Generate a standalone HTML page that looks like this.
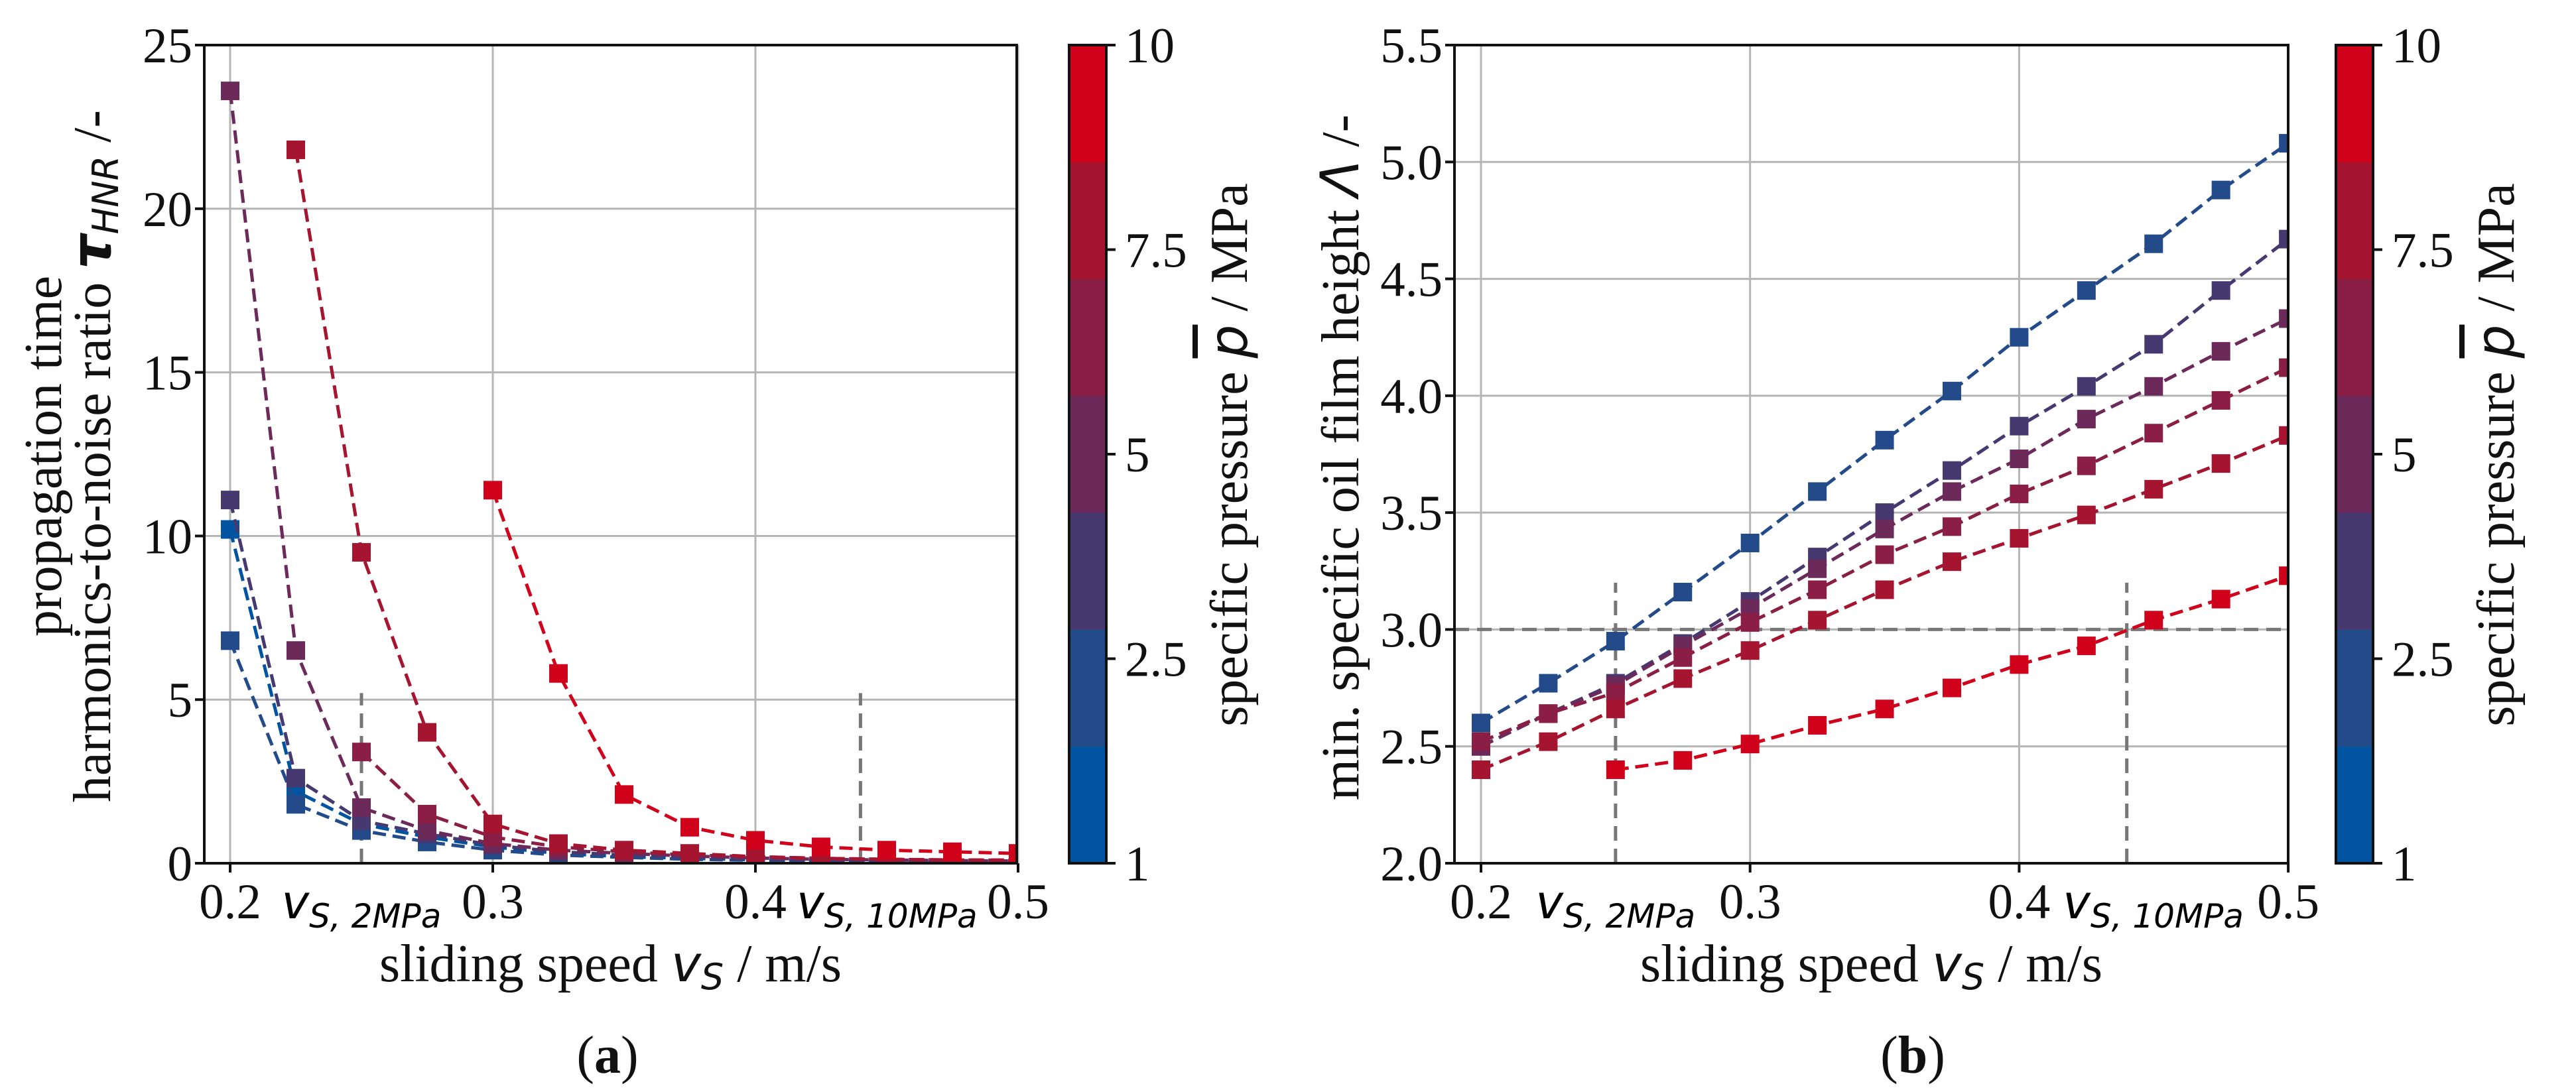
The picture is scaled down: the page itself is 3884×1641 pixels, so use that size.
<!DOCTYPE html>
<html><head><meta charset="utf-8"><style>
html,body{margin:0;padding:0;background:#fff;}
svg{display:block;}
.tk{font-family:"Liberation Serif",serif;font-size:75px;fill:#111;}
.ti{font-family:"Liberation Serif",serif;font-size:80px;fill:#111;}
.it{font-family:"DejaVu Sans",sans-serif;font-style:italic;}
</style></head><body>
<svg id="fig" width="3884" height="1641" viewBox="0 0 3884 1641" xmlns="http://www.w3.org/2000/svg">
<g id="gA"></g>
<g id="gB"></g>
<text class="ti" x="916" y="1618" text-anchor="middle">(<tspan font-weight="bold">a</tspan>)</text>
<text class="ti" x="2884" y="1618" text-anchor="middle">(<tspan font-weight="bold">b</tspan>)</text>
</svg>
<script>
const speeds=[0.2,0.225,0.25,0.275,0.3,0.325,0.35,0.375,0.4,0.425,0.45,0.475,0.5];
const colors=["#0054a0","#234b8a","#453970","#6b2a5a","#8b1e45","#a51530","#d0021b"];
const cbTicks=["10","7.5","5","2.5","1"];
const xTicks=[0.2,0.3,0.4,0.5];
// chart a: tau_HNR per pressure series (null = not measured)
const tauP1=[10.2,2.2,1.2,0.8,0.5,0.3,0.2,0.15,0.1,0.08,0.06,0.05,0.05];
const tauP2=[6.8,1.8,1.0,0.65,0.4,0.25,0.18,0.12,0.09,0.07,0.05,0.04,0.04];
const tauP3=[11.1,2.6,1.3,0.9,0.55,0.35,0.25,0.18,0.12,0.1,0.08,0.06,0.05];
const tauP4=[23.6,6.5,1.7,1.0,0.6,0.4,0.3,0.22,0.16,0.12,0.1,0.08,0.07];
const tauP5=[null,null,3.4,1.5,0.8,0.5,0.35,0.25,0.2,0.15,0.12,0.1,0.09];
const tauP6=[null,21.8,9.5,4.0,1.2,0.6,0.4,0.3,0.2,0.15,0.12,0.1,0.1];
const tauP7=[null,null,null,null,11.4,5.8,2.1,1.1,0.7,0.5,0.4,0.35,0.3];
const tauYTicks=[0,5,10,15,20,25];
// chart b: lambda per pressure series
const lamP2=[2.6,2.77,2.95,3.16,3.37,3.59,3.81,4.02,4.25,4.45,4.65,4.88,5.08];
const lamP3=[2.5,2.64,2.77,2.94,3.12,3.31,3.50,3.68,3.87,4.04,4.22,4.45,4.67];
const lamP4=[2.5,2.64,2.76,2.93,3.09,3.26,3.43,3.59,3.73,3.90,4.04,4.19,4.33];
const lamP5=[2.52,2.64,2.73,2.88,3.03,3.17,3.32,3.44,3.58,3.70,3.84,3.98,4.12];
const lamP6=[2.4,2.52,2.66,2.79,2.91,3.04,3.17,3.29,3.39,3.49,3.60,3.71,3.83];
const lamP7=[null,null,2.40,2.44,2.51,2.59,2.66,2.75,2.85,2.93,3.04,3.13,3.23];
const lamYTicks=[2.0,2.5,3.0,3.5,4.0,4.5,5.0,5.5];
const vMarks=[0.25,0.44];

const NS="http://www.w3.org/2000/svg";
function mk(parent,tag,attrs){const e=document.createElementNS(NS,tag);for(const k in attrs)e.setAttribute(k,attrs[k]);parent.appendChild(e);return e;}

function chart(g,cfg){
  const L=cfg.L,R=cfg.R,T=68,B=1302;
  const xs=v=>cfg.x02+(v-0.2)*cfg.px;
  const ys=v=>B-(v-cfg.ymin)/(cfg.ymax-cfg.ymin)*(B-T);
  const cid="clip"+cfg.id;
  const cp=mk(mk(g,"defs",{}),"clipPath",{id:cid});mk(cp,"rect",{x:L,y:T,width:R-L,height:B-T});
  xTicks.forEach(t=>{const l=mk(g,"line",{x1:xs(t),x2:xs(t),y1:T,y2:B,stroke:"#b5b5b5","stroke-width":3});
    
    });
  cfg.yt.forEach(t=>{const l=mk(g,"line",{x1:L,x2:R,y1:ys(t),y2:ys(t),stroke:"#b5b5b5","stroke-width":3});
    
    });
  vMarks.forEach(v=>{const l=mk(g,"line",{x1:xs(v),x2:xs(v),y1:B,y2:ys(cfg.vTop),stroke:"#777","stroke-width":5,"stroke-dasharray":"22 12"});
    
    });
  if(cfg.hLine!=null){const l=mk(g,"line",{x1:L,x2:R,y1:ys(cfg.hLine),y2:ys(cfg.hLine),stroke:"#777","stroke-width":5,"stroke-dasharray":"22 12"});
    
    }
  const sg=mk(g,"g",{"clip-path":"url(#"+cid+")"});
  cfg.series.forEach((s,i)=>{
    const col=cfg.cols[i];
    const pts=[];s.forEach((v,j)=>{if(v!=null)pts.push([xs(speeds[j]),ys(v)]);});
    const pl=mk(sg,"polyline",{points:pts.map(p=>p.join(",")).join(" "),fill:"none",stroke:col,"stroke-width":5,"stroke-dasharray":"20 10"});
    
    
    pts.forEach(p=>{const r=mk(sg,"rect",{x:p[0]-14,y:p[1]-14,width:28,height:28,fill:col});
      
      });
  });
  const fr=mk(g,"rect",{x:L,y:T,width:R-L,height:B-T,fill:"none",stroke:"#111","stroke-width":4});
  
  
  xTicks.forEach(t=>{mk(g,"line",{x1:xs(t),x2:xs(t),y1:B,y2:B+14,stroke:"#111","stroke-width":4});
    const tx=mk(g,"text",{x:xs(t),y:1385,"text-anchor":"middle",class:"tk"});tx.textContent=t.toFixed(1);
    
    });
  cfg.yt.forEach(t=>{mk(g,"line",{x1:L-14,x2:L,y1:ys(t),y2:ys(t),stroke:"#111","stroke-width":4});
    const tx=mk(g,"text",{x:L-18,y:ys(t)+26,"text-anchor":"end",class:"tk"});tx.textContent=cfg.fmt(t);
    
    });
  [["S, 2MPa",vMarks[0],0],["S, 10MPa",vMarks[1],40]].forEach(([sub,v,off])=>{
    const tx=mk(g,"text",{x:xs(v)+off,y:1385,"text-anchor":"middle",class:"it","font-size":"70"});
    
    
    const a=mk(tx,"tspan",{});a.textContent="v";
    const b=mk(tx,"tspan",{dy:"14","font-size":"50"});b.textContent=sub;});
  const xt=mk(g,"text",{x:(L+R)/2,y:1480,"text-anchor":"middle",class:"ti"});
  
  
  mk(xt,"tspan",{}).textContent="sliding speed ";
  mk(xt,"tspan",{class:"it","font-size":"76"}).textContent="v";
  mk(xt,"tspan",{class:"it","font-size":"54",dy:"12"}).textContent="S";
  mk(xt,"tspan",{dy:"-12"}).textContent=" / m/s";
  const cx=cfg.cbx,cw=56,n=colors.length,h=(B-T)/n;
  colors.forEach((c,i)=>{const r=mk(g,"rect",{x:cx,y:B-(i+1)*h,width:cw,height:h+0.5,fill:c});
    
    });
  mk(g,"rect",{x:cx,y:T,width:cw,height:B-T,fill:"none",stroke:"#111","stroke-width":4});
  cbTicks.forEach((t,i)=>{const y=T+i*(B-T)/4;
    mk(g,"line",{x1:cx+cw,x2:cx+cw+14,y1:y,y2:y,stroke:"#111","stroke-width":4});
    const tx=mk(g,"text",{x:cx+cw+28,y:y+26,class:"tk"});tx.textContent=t;
    
    });
  const cl=mk(g,"text",{transform:"translate("+(cx+cw+212)+",686) rotate(-90)","text-anchor":"middle",class:"ti","font-size":"84"});
  
  
  mk(cl,"tspan",{}).textContent="specific pressure ";
  mk(cl,"tspan",{class:"it","text-decoration":"overline"}).textContent="p";
  mk(cl,"tspan",{}).textContent=" / MPa";
  return {xs,ys};
}

const gA=document.getElementById("gA");
chart(gA,{id:"A",L:308,R:1533,x02:347,px:3960,ymin:0,ymax:25,yt:tauYTicks,fmt:t=>String(t),
  series:[tauP1,tauP2,tauP3,tauP4,tauP5,tauP6,tauP7],cols:colors,vTop:5.2,hLine:null,cbx:1612});
const yA=mk(gA,"text",{transform:"translate(0,688) rotate(-90)","text-anchor":"middle",class:"ti","font-size":"84"});


mk(yA,"tspan",{x:0,y:92}).textContent="propagation time";
mk(yA,"tspan",{x:0,y:166}).textContent="harmonics-to-noise ratio ";
mk(yA,"tspan",{class:"it","font-weight":"bold","font-size":"82"}).textContent="τ";
mk(yA,"tspan",{class:"it","font-size":"54",dy:"12"}).textContent="HNR";
mk(yA,"tspan",{dy:"-12"}).textContent=" /-";

const gB=document.getElementById("gB");
chart(gB,{id:"B",L:2193,R:3450,x02:2233,px:4057,ymin:2,ymax:5.5,yt:lamYTicks,fmt:t=>t.toFixed(1),
  series:[lamP2,lamP3,lamP4,lamP5,lamP6,lamP7],cols:colors.slice(1),vTop:3.2,hLine:3.0,cbx:3522});
const yB=mk(gB,"text",{transform:"translate(2048,690) rotate(-90)","text-anchor":"middle",class:"ti","font-size":"84"});


mk(yB,"tspan",{}).textContent="min. specific oil film height ";
mk(yB,"tspan",{class:"it"}).textContent="Λ";
mk(yB,"tspan",{}).textContent=" /-";
</script>
</body></html>
